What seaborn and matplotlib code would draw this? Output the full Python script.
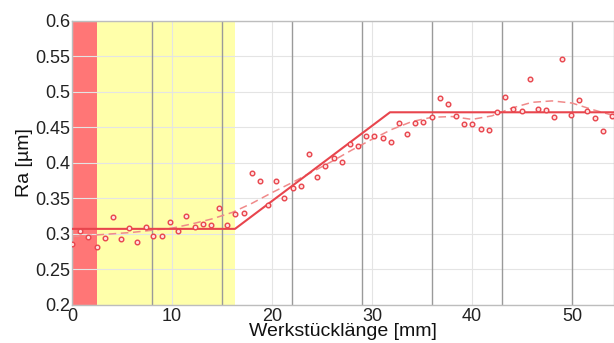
import matplotlib
matplotlib.use("Agg")
import matplotlib.pyplot as plt
import seaborn as sns
import pandas as pd

# Messpunkte (Ra ueber Werkstuecklaenge)
meas_x = [0.0, 0.8, 1.6, 2.45, 3.25, 4.07, 4.87, 5.7, 6.5, 7.35, 8.1, 8.97, 9.8, 10.6,
          11.4, 12.25, 13.05, 13.9, 14.7, 15.5, 16.3, 17.15, 17.97, 18.77, 19.6, 20.4,
          21.2, 22.05, 22.9, 23.7, 24.5, 25.3, 26.15, 26.98, 27.8, 28.6, 29.4, 30.2,
          31.05, 31.85, 32.7, 33.5, 34.3, 35.1, 35.95, 36.8, 37.6, 38.4, 39.2, 40.0,
          40.85, 41.7, 42.5, 43.3, 44.1, 44.95, 45.8, 46.6, 47.4, 48.2, 49.0, 49.85,
          50.7, 51.5, 52.3, 53.1, 53.95]
meas_ra = [0.286, 0.304, 0.296, 0.281, 0.294, 0.323, 0.293, 0.308, 0.289, 0.309, 0.297,
           0.297, 0.317, 0.304, 0.325, 0.309, 0.314, 0.313, 0.336, 0.312, 0.328, 0.329,
           0.386, 0.375, 0.341, 0.374, 0.351, 0.365, 0.367, 0.412, 0.380, 0.395, 0.406,
           0.401, 0.426, 0.423, 0.437, 0.437, 0.435, 0.429, 0.456, 0.440, 0.456, 0.457,
           0.465, 0.491, 0.482, 0.466, 0.455, 0.455, 0.448, 0.446, 0.471, 0.493, 0.476,
           0.473, 0.518, 0.476, 0.474, 0.465, 0.546, 0.467, 0.488, 0.473, 0.463, 0.444,
           0.466]

# Modell (durchgezogen)
model_x = [0.0, 16.3, 31.8, 54.2]
model_ra = [0.307, 0.307, 0.471, 0.471]

# geglaettete Kurve (gestrichelt)
smooth_x = [0, 2, 4, 6, 8, 10, 12, 14, 16, 18, 20, 22, 24, 26, 28, 30, 32, 34, 36,
            38, 40, 42, 44, 46, 48, 50, 52, 54]
smooth_ra = [0.296, 0.298, 0.300, 0.302, 0.305, 0.308, 0.314, 0.321, 0.330, 0.343,
             0.358, 0.372, 0.387, 0.402, 0.418, 0.433, 0.447, 0.458, 0.464, 0.465,
             0.461, 0.466, 0.477, 0.485, 0.487, 0.484, 0.475, 0.467]

# Bereiche und Trennlinien
red_zone = (0.0, 2.5)
yellow_zone = (2.5, 16.3)
sections = [8, 15, 22, 29, 36, 43, 50]

xticks = [0, 10, 20, 30, 40, 50]
yticks = [0.2, 0.25, 0.3, 0.35, 0.4, 0.45, 0.5, 0.55, 0.6]
ytick_labels = ["0.2", "0.25", "0.3", "0.35", "0.4", "0.45", "0.5", "0.55", "0.6"]

sns.set_theme(style="white")
plt.rcParams['font.family'] = ['Liberation Sans', 'DejaVu Sans']

red = '#e8454d'

fig = plt.figure(figsize=(6.14, 3.43), dpi=100)
ax = fig.add_axes([0.1173, 0.111, 0.8827, 0.829])

ax.axvspan(*red_zone, color='#ff7676', zorder=0.2, lw=0)
ax.axvspan(*yellow_zone, color='#ffffaa', zorder=0.2, lw=0)
ax.grid(True, color='#e4e4e4', linewidth=0.8)
ax.set_axisbelow(True)
for s in sections:
    ax.axvline(s, color='#9a9a9a', linewidth=1.0, zorder=1)

df_meas = pd.DataFrame({'x': meas_x, 'ra': meas_ra})
df_model = pd.DataFrame({'x': model_x, 'ra': model_ra})
df_smooth = pd.DataFrame({'x': smooth_x, 'ra': smooth_ra})

sns.lineplot(data=df_smooth, x='x', y='ra', ax=ax, color='#f08a8a', linewidth=1.1,
             linestyle=(0, (5, 3)), zorder=2, sort=False)
sns.lineplot(data=df_model, x='x', y='ra', ax=ax, color=red, linewidth=1.5, zorder=3,
             sort=False)
sns.scatterplot(data=df_meas, x='x', y='ra', ax=ax, marker='o', s=11,
                facecolor='#ffe0e0', edgecolor=red, linewidth=1.0, zorder=4)

ax.set_xlim(0, 54.2)
ax.set_ylim(0.2, 0.6)
ax.set_xticks(xticks)
ax.set_yticks(yticks)
ax.set_yticklabels(ytick_labels)
ax.tick_params(axis='y', labelsize=13, length=0, pad=1, colors='#222222')
ax.tick_params(axis='x', labelsize=13, length=0, pad=2, colors='#222222')
ax.set_xlabel('Werkstücklänge [mm]', fontsize=14, labelpad=-1, color='#111111')
ax.set_ylabel('Ra [µm]', fontsize=14, labelpad=2, color='#111111')
for sp in ax.spines.values():
    sp.set_color('#bdbdbd')
    sp.set_linewidth(1.0)

fig.savefig('out.png', dpi=100)
